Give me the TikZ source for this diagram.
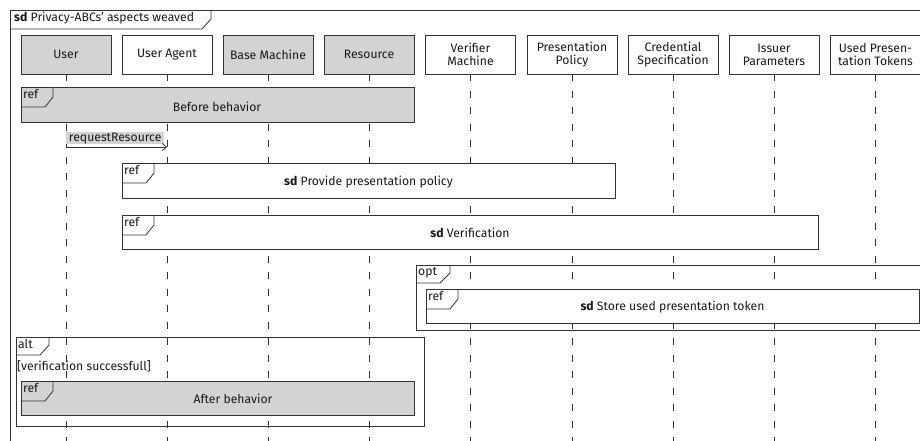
\documentclass[tikz,border=0pt]{standalone}
\usepackage{fontspec}
\setmainfont{Fira Sans}
\usetikzlibrary{arrows.meta}
\definecolor{boxgray}{HTML}{D3D3D3}
\definecolor{linec}{HTML}{333333}
\begin{document}
\begin{tikzpicture}[x=1pt,y=-1pt,
  every node/.style={inner sep=0pt, text=black!90},
  base/.style={font=\fontsize{12.2}{13}\selectfont},
  head/.style={base, draw=linec, line width=0.8pt, minimum width=90pt, minimum height=39pt, align=center},
  lifeline/.style={draw=linec, line width=0.8pt, dash pattern=on 7pt off 9.5pt},
  refbox/.style={draw=linec, line width=0.8pt, anchor=north west},
  fragbox/.style={draw=linec, line width=0.8pt, anchor=north west},
  tabline/.style={draw=linec, line width=0.8pt},
  tabtext/.style={base, anchor=north west},
  msg/.style={draw=linec, line width=0.8pt, -{Straight Barb[length=4pt,width=7pt]}}]
\useasboundingbox (0,0) rectangle (920,441);
\clip (0,0) rectangle (920,441);
% outer frame
\coordinate (frtl) at (10,10);
\coordinate (frtr) at (930,10);
\coordinate (frbl) at (10,450);
\draw[tabline] (frbl) -- (frtl) -- (frtr);
\node[tabtext] (title) at (14,12) {\textbf{sd} Privacy-ABCs' aspects weaved};
\draw[tabline] (10,29) -- (202,29) -- (211,19) -- (211,10);
% lifeline heads
\node[head, fill=boxgray] (user) at (66,54.5) {User};
\node[head, fill=white] (ua) at (167,54.5) {User Agent};
\node[head, fill=boxgray] (bm) at (268,54.5) {Base Machine};
\node[head, fill=boxgray] (res) at (369,54.5) {Resource};
\node[head, fill=white] (vm) at (470.5,54.5) {Verifier\\Machine};
\node[head, fill=white] (pp) at (572,54.5) {Presentation\\Policy};
\node[head, fill=white] (cs) at (673,54.5) {Credential\\Specification};
\node[head, fill=white] (ip) at (774,54.5) {Issuer\\Parameters};
\node[head, fill=white] (upt) at (875.5,54.5) {Used Presen-\\tation Tokens};
\coordinate (bot) at (0,450);
\foreach \n in {user,ua,bm,res,vm,pp,cs,ip,upt}
  \draw[lifeline] (\n.south) -- (\n.south |- bot);
% Before behavior
\node[refbox, fill=boxgray, minimum width=393pt, minimum height=35pt] (before) at (21,87) {};
\node[base] (beforet) at (217,107) {Before behavior};
\draw[tabline] (21,107) -- (45,107) -- (53,97) -- (53,87);
\node[tabtext] (beforer) at (23,89) {ref};
% message
\coordinate (m1) at (0,147);
\node[base, fill=boxgray, anchor=south west, minimum height=12pt, minimum width=98pt] (lbl) at (66,144.5) {requestResource};
\draw[msg] (user |- m1) -- (ua |- m1);
% Provide presentation policy
\node[refbox, fill=white, minimum width=493pt, minimum height=35pt] (ppol) at (122,163) {};
\node[base] (ppolt) at (368.5,182) {\textbf{sd} Provide presentation policy};
\draw[tabline] (122,183) -- (146,183) -- (154,173) -- (154,163);
\node[tabtext] (ppolr) at (124,165) {ref};
% Verification
\node[refbox, fill=white, minimum width=696pt, minimum height=34pt] (ver) at (122,215) {};
\node[base] (vert) at (470,233) {\textbf{sd} Verification};
\draw[tabline] (122,235) -- (146,235) -- (154,225) -- (154,215);
\node[tabtext] (verr) at (124,217) {ref};
% opt
\node[fragbox, minimum width=510pt, minimum height=65pt] (opt) at (416,265) {};
\draw[tabline] (416,283) -- (440,283) -- (450,273) -- (450,265);
\node[tabtext] (optt) at (418,267) {opt};
\node[refbox, fill=white, minimum width=493pt, minimum height=34pt] (store) at (426,289) {};
\node[base] (storet) at (672.5,307) {\textbf{sd} Store used presentation token};
\draw[tabline] (426,309) -- (450,309) -- (458,299) -- (458,289);
\node[tabtext] (storer) at (428,291) {ref};
% alt
\node[fragbox, minimum width=408pt, minimum height=89pt] (alt) at (16,337) {};
\draw[tabline] (16,355) -- (40,355) -- (49,345) -- (49,337);
\node[tabtext] (altt) at (18,339) {alt};
\node[tabtext] (guard) at (17,360) {[verification successfull]};
\node[refbox, fill=boxgray, minimum width=393pt, minimum height=34pt] (after) at (21,381) {};
\node[base] (aftert) at (233,399) {After behavior};
\draw[tabline] (21,401) -- (45,401) -- (53,391) -- (53,381);
\node[tabtext] (afterr) at (23,383) {ref};
\end{tikzpicture}
\end{document}
